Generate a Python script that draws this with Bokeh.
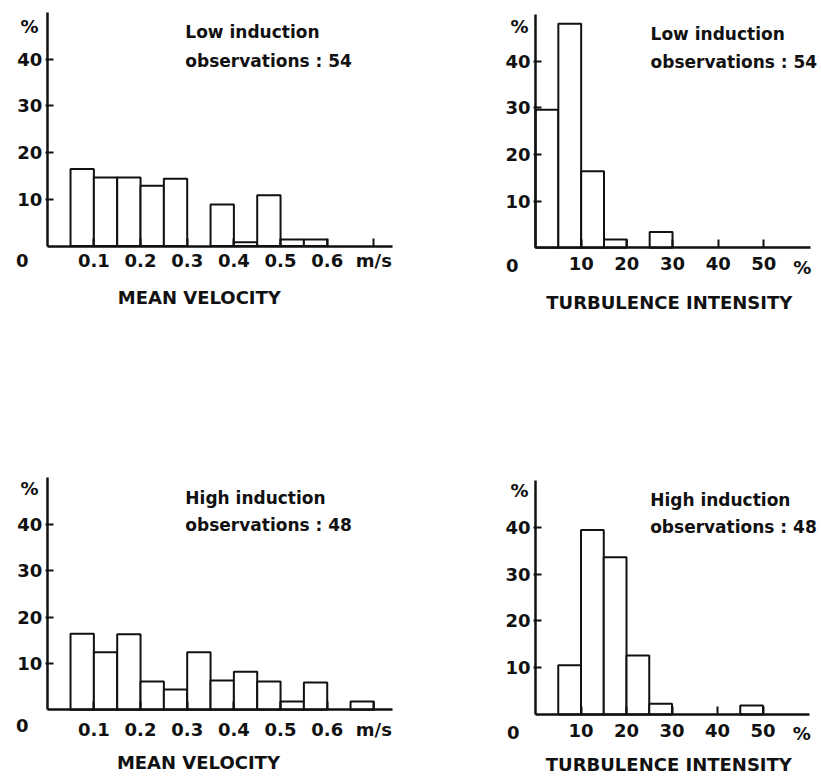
from bokeh.plotting import figure
from bokeh.models import Label, FixedTicker, Range1d
from bokeh.layouts import column, row
from bokeh.embed import file_html
from bokeh.resources import INLINE

# ---------------- data ----------------
vel_left = [0.05, 0.10, 0.15, 0.20, 0.25, 0.30, 0.35, 0.40, 0.45, 0.50, 0.55, 0.60, 0.65]
vel_bin = 0.05
low_vel = [16.5, 14.7, 14.7, 12.9, 14.4, 0.0, 8.9, 0.8, 10.9, 1.4, 1.4, 0.0, 0.0]
high_vel = [16.4, 12.4, 16.3, 6.1, 4.4, 12.4, 6.3, 8.2, 6.1, 1.8, 5.9, 0.0, 1.8]

turb_left = [0, 5, 10, 15, 20, 25, 30, 35, 40, 45]
turb_bin = 5
low_turb = [29.6, 48.0, 16.4, 1.8, 0.0, 3.4, 0.0, 0.0, 0.0, 0.0]
high_turb = [0.0, 10.5, 39.4, 33.6, 12.6, 2.3, 0.0, 0.0, 0.0, 1.9]

vel_ticks = [0.1, 0.2, 0.3, 0.4, 0.5, 0.6, 0.7]
vel_tick_labels = ["0.1", "0.2", "0.3", "0.4", "0.5", "0.6", "m/s"]
turb_ticks = [10, 20, 30, 40, 50]
turb_tick_labels = ["10", "20", "30", "40", "50"]
pct_ticks = [10, 20, 30, 40]

low_notes = ["Low induction", "observations : 54"]
high_notes = ["High induction", "observations : 48"]
x_titles = ["MEAN VELOCITY", "TURBULENCE INTENSITY"]

FONT = "DejaVu Sans"
INK = "#111111"


def lbl(p, x, y, text, size="18px", align="center"):
    p.add_layout(Label(x=x, y=y, text=text, text_font=FONT, text_font_style="bold",
                       text_font_size=size, text_color=INK,
                       text_align=align, text_baseline="middle"))


def panel(w, h, x0, kx, y0, ky, x_end, lefts, binw, vals, xticks, xlabels,
          standoff, notes, note_x, note_y, title, title_x, title_y, zero_xy, pct_xy,
          xpct_xy=None):
    # the frame covers the whole canvas; axes sit at the data origin
    p = figure(width=w, height=h, output_backend="svg", toolbar_location=None,
               x_range=Range1d(-x0 / kx, (w - x0) / kx),
               y_range=Range1d(-(h - y0) / ky, y0 / ky),
               min_border=0, background_fill_color="white",
               border_fill_color="white")
    p.outline_line_color = None
    p.grid.visible = False

    L = [l for l, v in zip(lefts, vals) if v > 0]
    R = [l + binw for l, v in zip(lefts, vals) if v > 0]
    T = [v for v in vals if v > 0]
    p.quad(left=L, right=R, bottom=0, top=T, fill_color="white",
           line_color=INK, line_width=2)

    for ax in (p.xaxis, p.yaxis):
        ax.fixed_location = 0
        ax.axis_line_width = 2.5
        ax.axis_line_color = INK
        ax.major_tick_line_width = 2
        ax.major_tick_line_color = INK
        ax.minor_tick_line_color = None
        ax.major_label_text_font = FONT
        ax.major_label_text_font_style = "bold"
        ax.major_label_text_font_size = "18px"
        ax.major_label_text_color = INK

    p.xaxis.bounds = (0, x_end)
    p.xaxis.ticker = FixedTicker(ticks=xticks)
    p.xaxis.major_label_overrides = {t: s for t, s in zip(xticks, xlabels)}
    p.xaxis.major_tick_in = 8
    p.xaxis.major_tick_out = 0
    p.xaxis.major_label_standoff = standoff

    p.yaxis.bounds = (0, 50)
    p.yaxis.ticker = FixedTicker(ticks=pct_ticks)
    p.yaxis.major_tick_in = 6
    p.yaxis.major_tick_out = 2
    p.yaxis.major_label_standoff = 3

    lbl(p, note_x, note_y[0], notes[0], size="17px", align="left")
    lbl(p, note_x, note_y[1], notes[1], size="17px", align="left")
    lbl(p, title_x, title_y, title)
    lbl(p, zero_xy[0], zero_xy[1], "0")
    lbl(p, pct_xy[0], pct_xy[1], "%")
    if xpct_xy is not None:
        lbl(p, xpct_xy[0], xpct_xy[1], "%")
    return p


p1 = panel(480, 400, 46.7, 466.7, 245.5, 4.667, 0.74, vel_left, vel_bin, low_vel,
           vel_ticks, vel_tick_labels, 4, low_notes, 0.296, (45.8, 39.7),
           x_titles[0], 0.326, -11.0, (-0.0536, -3.1), (-0.038, 47.1))
p2 = panel(341, 400, 55.0, 4.567, 247.3, 4.667, 60.2, turb_left, turb_bin, low_turb,
           turb_ticks, turb_tick_labels, 9, low_notes, 25.2, (45.8, 39.9),
           x_titles[1], 29.3, -11.7, (-5.1, -3.8), (-3.5, 47.4), (58.4, -4.2))
p3 = panel(480, 377, 46.7, 466.7, 309.3, 4.64, 0.74, vel_left, vel_bin, high_vel,
           vel_ticks, vel_tick_labels, 9, high_notes, 0.296, (45.6, 39.9),
           x_titles[0], 0.324, -11.4, (-0.0536, -3.4), (-0.038, 47.7))
p4 = panel(341, 377, 55.0, 4.55, 314.0, 4.68, 60.2, turb_left, turb_bin, high_turb,
           turb_ticks, turb_tick_labels, 9, high_notes, 25.2, (45.9, 40.0),
           x_titles[1], 29.3, -10.6, (-4.9, -3.8), (-3.5, 47.8), (58.5, -4.1))

layout = column(row(p1, p2), row(p3, p4))
open("out.html", "w").write(file_html(layout, INLINE))
